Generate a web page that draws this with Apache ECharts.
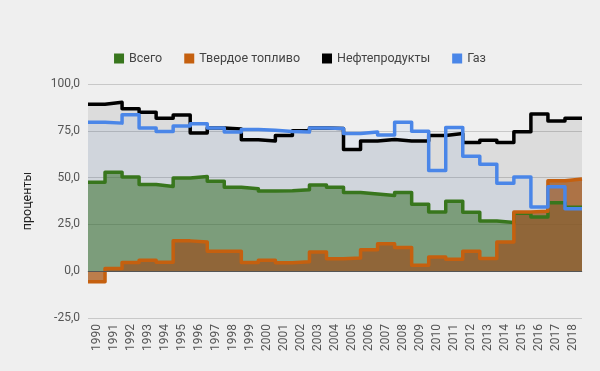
<!DOCTYPE html>
<html>
<head>
<meta charset="utf-8">
<script src="https://cdn.jsdelivr.net/npm/echarts@6/dist/echarts.min.js"></script>
<style>
html,body{margin:0;padding:0;background:#efefef;}
#chart{width:600px;height:371px;}
</style>
</head>
<body>
<div id="chart"></div>
<script>
var years = ['1990','1991','1992','1993','1994','1995','1996','1997','1998','1999','2000','2001','2002','2003','2004','2005','2006','2007','2008','2009','2010','2011','2012','2013','2014','2015','2016','2017','2018'];
var seriesNames = ['Всего','Твердое топливо','Нефтепродукты','Газ'];
var total = [47.5,52.9,50.3,46.3,45.3,49.8,50.6,48.0,44.9,44.1,42.8,43.0,43.5,46.0,44.8,42.1,41.2,40.5,42.1,35.7,31.6,37.3,31.5,26.8,26.0,31.0,29.0,36.6,34.2];
var solidFuel = [-5.7,1.4,4.6,5.9,4.8,16.2,15.6,10.7,10.7,4.6,5.8,4.5,5.0,10.2,6.6,7.0,11.4,14.6,12.6,3.2,7.6,6.4,10.7,6.8,15.6,31.6,32.0,48.3,49.2];
var oil = [89.2,90.2,86.8,84.9,81.7,83.4,73.8,76.5,76.0,70.2,69.6,72.5,75.0,76.5,76.2,65.0,69.5,70.3,69.6,69.6,72.5,73.5,68.7,70.0,68.8,74.5,84.0,80.3,81.7];
var gas = [79.6,79.1,83.6,76.5,74.6,77.5,78.7,76.5,74.3,75.7,75.3,74.6,74.3,76.5,76.2,73.5,74.3,72.7,79.6,74.8,53.8,76.7,61.4,57.1,47.0,50.3,34.3,45.1,33.4];
var yTicks = {min:-25, max:100, interval:25};

// each value spans its whole category band: edges at index-0.5 .. index+0.5
function bands(vals){
  var out = vals.map(function(v,i){ return [i-0.5, v]; });
  out.push([vals.length-0.5, vals[vals.length-1]]);
  return out;
}
function mk(name, vals, color, areaColor, areaOp){
  return {
    name: name, type:'line', xAxisIndex:1, step:'end', showSymbol:false, symbol:'none',
    data: bands(vals),
    itemStyle:{color:color},
    lineStyle:{color:color, width:3.5, join:'round'},
    areaStyle:{color:areaColor, opacity:areaOp, origin:0},
    animation:false
  };
}
var chart = echarts.init(document.getElementById('chart'));
var s0 = mk(seriesNames[0], total, '#38761d', '#38761d', 0.55);
s0.markLine = {silent:true, symbol:['none','none'], label:{show:false},
  lineStyle:{color:'#555', width:1, type:'solid'}, data:[{yAxis:0}], animation:false};
chart.setOption({
  backgroundColor:'#efefef',
  textStyle:{fontFamily:'Roboto'},
  legend:{
    top:47, left:'center', icon:'rect', itemWidth:10, itemHeight:10, itemGap:22,
    textStyle:{fontSize:12.5, color:'#444', fontFamily:'Roboto'},
    data: seriesNames
  },
  grid:{left:88, right:18, top:84, bottom:53},
  xAxis:[{
    type:'category', data:years, boundaryGap:true,
    axisTick:{show:false},
    axisLine:{lineStyle:{color:'#bbb'}},
    axisLabel:{rotate:90, color:'#555', fontSize:12, interval:0, margin:6}
  },{
    type:'value', min:-0.5, max:years.length-0.5, show:false
  }],
  yAxis:{
    type:'value', min:yTicks.min, max:yTicks.max, interval:yTicks.interval,
    name:'проценты', nameLocation:'middle', nameRotate:90, nameGap:54,
    nameTextStyle:{fontSize:12.5, color:'#222'},
    axisLine:{show:false}, axisTick:{show:false},
    axisLabel:{color:'#555', fontSize:12, margin:8,
      formatter:function(v){ return v.toFixed(1).replace('.',','); }},
    splitLine:{lineStyle:{color:'#c8c8c8'}}
  },
  series:[
    s0,
    mk(seriesNames[1], solidFuel, '#c5600f', 'rgb(171,87,21)', 0.75),
    mk(seriesNames[2], oil, '#000000', '#000000', 0.08),
    mk(seriesNames[3], gas, '#4a86e8', '#4a86e8', 0.08)
  ]
});
</script>
</body>
</html>
